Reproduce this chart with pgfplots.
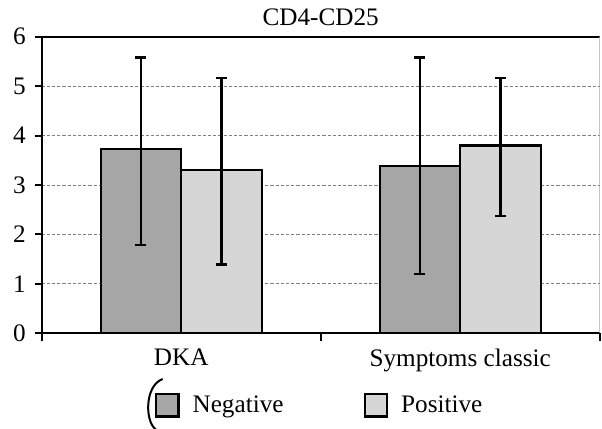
\documentclass[border=0pt]{standalone}
\usepackage{fontspec}
\setmainfont{Liberation Serif}
\usepackage{pgfplots}
\pgfplotsset{compat=1.18}
\definecolor{negc}{RGB}{166,166,166}
\definecolor{posc}{RGB}{214,214,214}
\begin{document}
\begin{tikzpicture}[font=\fontsize{12.6}{14}\selectfont]
\useasboundingbox (-20.85pt,-47.85pt) rectangle (280.15pt,166.65pt);
\begin{axis}[
  at={(0,0)}, anchor=south west,
  scale only axis, width=279pt, height=148.3pt,
  xmin=-0.5, xmax=1.5, ymin=0, ymax=6,
  axis x line*=bottom, axis y line*=left,
  axis line style={line width=1.1pt, black, -},
  xtick={0,1}, xticklabels={DKA,Symptoms classic},
  xtick style={draw=none},
  extra x ticks={-0.5,0.5,1.5}, extra x tick labels={},
  extra x tick style={xtick style={draw=black, line width=1pt}, major tick length=4pt, tick align=outside, grid=none},
  ytick={0,1,2,3,4,5,6},
  ytick style={line width=1pt, black}, major tick length=3.5pt, tick align=outside,
  ymajorgrids, grid style={gray, dash pattern=on 1.6pt off 1pt, line width=0.5pt},
  xticklabel style={yshift=-1pt},
  yticklabel style={xshift=-1pt},
  /pgf/number format/assume math mode=true,
  title={CD4-CD25}, title style={anchor=center, yshift=3.8pt, inner sep=0pt},
  ybar, bar width=0.2885,
  legend columns=2,
  legend style={draw=none, fill=none, at={(0.5,-0.2428)}, anchor=center,
    /tikz/every odd column/.append style={column sep=4.5pt},
    /tikz/every even column/.append style={column sep=38pt}, inner sep=0pt},
  legend cell align=left,
  legend image code/.code={\draw[#1, line width=1.1pt] (0pt,-5.6pt) rectangle (11.2pt,5.6pt);},
  error bars/y dir=both, error bars/y explicit,
  error bars/error bar style={line width=1.15pt, black},
  error bars/error mark options={rotate=90, mark size=2.75pt, line width=1.15pt, black},
]
\addplot[fill=negc, draw=black, line width=1.1pt, bar shift=-0.14425] coordinates {
  (0,3.73) += (0,1.85) -= (0,1.94)
  (1,3.39) += (0,2.19) -= (0,2.19)
};
\addplot[fill=posc, draw=black, line width=1.1pt, bar shift=0.14425] coordinates {
  (0,3.31) += (0,1.85) -= (0,1.92)
  (1,3.80) += (0,1.36) -= (0,1.42)
};
\legend{Negative,Positive}
\draw[line width=1.1pt, black] (rel axis cs:0,1) -- (rel axis cs:1,1);
\draw[line width=0.5pt, gray!70] (rel axis cs:1,0) -- (rel axis cs:1,1);
\end{axis}
\draw[line width=1pt] (60.5pt,-22.85pt) .. controls (51.5pt,-26pt) and (51.5pt,-44pt) .. (57pt,-48pt);
\end{tikzpicture}
\end{document}
